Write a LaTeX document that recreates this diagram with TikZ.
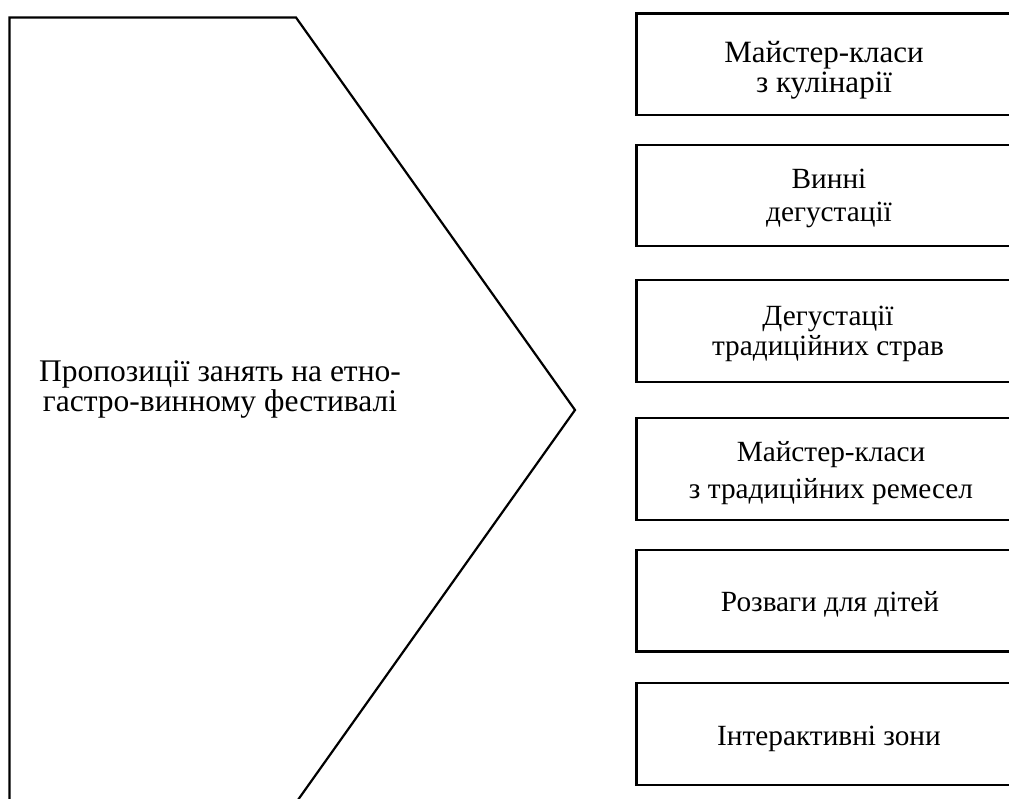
\documentclass[tikz,border=0pt]{standalone}
\usepackage{fontspec}
\setmainfont{Liberation Serif}
\begin{document}
\begin{tikzpicture}[x=1pt,y=-1pt,
  box/.style={draw,line width=2.2pt,minimum width=376.5pt,inner sep=0pt},
  lbl/.style={align=center,inner sep=0pt,anchor=base,font=\fontsize{29.3}{30}\selectfont}]
\useasboundingbox (0,0) rectangle (1009,798);
\draw[line width=2.2pt,line join=miter] (9.5,830) -- (9.5,17.5) -- (296,17.5) -- (575,410) -- (278,828);
\node[lbl,font=\fontsize{31.5}{30}\selectfont] (main) at (220,411.7) {Пропозиції занять на етно-\\гастро-винному фестивалі};
\node[box,minimum height=101.5pt] (b1) at (824.75,64.25) {};
\node[box,minimum height=101pt] (b2) at (824.75,195.5) {};
\node[box,minimum height=102pt] (b3) at (824.75,330.75) {};
\node[box,minimum height=102pt] (b4) at (824.75,469) {};
\node[box,minimum height=101.5pt] (b5) at (824.75,600.75) {};
\node[box,minimum height=102pt] (b6) at (824.75,734) {};
\node[lbl,font=\fontsize{31}{30}\selectfont] (t1) at (824,92.7) {Майстер-класи\\з кулінарії};
\node[lbl,font=\fontsize{29.3}{33}\selectfont] (t2) at (829,221.7) {Винні\\дегустації};
\node[lbl,font=\fontsize{29.3}{30}\selectfont] (t3) at (828,355) {Дегустації\\традиційних страв};
\node[lbl,font=\fontsize{29.3}{36.5}\selectfont] (t4) at (831,498.3) {Майстер-класи\\з традиційних ремесел};
\node[lbl] (t5) at (830,611.7) {Розваги для дітей};
\node[lbl] (t6) at (829,745) {Інтерактивні зони};
\end{tikzpicture}
\end{document}
